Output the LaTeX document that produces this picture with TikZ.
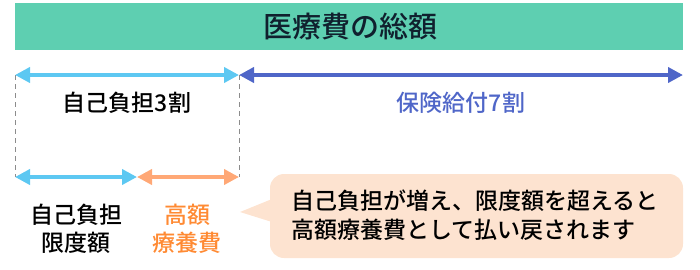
\documentclass[tikz,border=0pt]{standalone}
\usepackage{fontspec}
\setmainfont{Noto Sans CJK JP Medium}
\newfontfamily\jpbold{Noto Sans CJK JP Bold}
\usetikzlibrary{arrows.meta, calc, positioning}
\definecolor{hteal}{HTML}{5ECFB1}
\definecolor{hnavy}{HTML}{10202E}
\definecolor{hsky}{HTML}{5DC8F2}
\definecolor{hblue}{HTML}{4F66C8}
\definecolor{horange}{HTML}{FFA876}
\definecolor{horangedk}{HTML}{FF8A33}
\definecolor{hpeach}{HTML}{FDE3D0}
\definecolor{hgray}{gray}{0.55}
\tikzset{
  span/.style     = {line width=4pt, {Triangle[length=15pt,width=15pt]}-{Triangle[length=15pt,width=15pt]}},
  guide/.style    = {draw=hgray, line width=1pt, dash pattern=on 5pt off 4pt},
  lab/.style      = {font=\fontsize{23}{30}\selectfont, inner sep=0pt, align=center},
  note/.style     = {lab, align=left},
}
\begin{document}
\begin{tikzpicture}[x=1pt, y=-1pt, line join=round]
  \useasboundingbox (0,0) rectangle (700,269);
  % total bar
  \fill[hteal] (15,3) rectangle (683,50);
  \node[font=\fontsize{29}{32}\selectfont, text=hnavy, inner sep=0pt] (total) at (350,27) {医療費の総額};
  % ends of the spans
  \coordinate (aL) at (15,75);
  \coordinate (aM) at (239,75);
  \coordinate (aR) at (683,75);
  \coordinate (bL) at (15,177);
  \coordinate (bM) at (137,177);
  \coordinate (bR) at (239,177);
  \draw[guide] (aL) -- (bL);
  \draw[guide] (aM) -- (bR);
  \draw[span, hsky] (aL) -- (aM);
  \draw[span, hblue] (aM) -- (aR);
  \draw[span, hsky] (bL) -- (bM);
  \draw[span, horange] (bM) -- (bR);
  \node[lab] (self) at (127,103) {自己負担3割};
  \node[lab, text=hblue] (ins) at (461,103) {保険給付7割};
  \node[lab] (limit) at (76,229) {自己負担\\[-2pt]限度額};
  \node[lab, text=horangedk] (high) at (187,229) {高額\\[-2pt]療養費};
  % callout
  \coordinate (tip) at (240,212);
  \fill[hpeach, rounded corners=14pt] (270,174) rectangle (683,258);
  \fill[hpeach] (tip) -- (272,199) -- (272,222) -- cycle;
  \node[note, anchor=west] (msg) at (291,215) {自己負担が増え、限度額を超えると\\[-1pt]高額療養費として払い戻されます};
\end{tikzpicture}
\end{document}
